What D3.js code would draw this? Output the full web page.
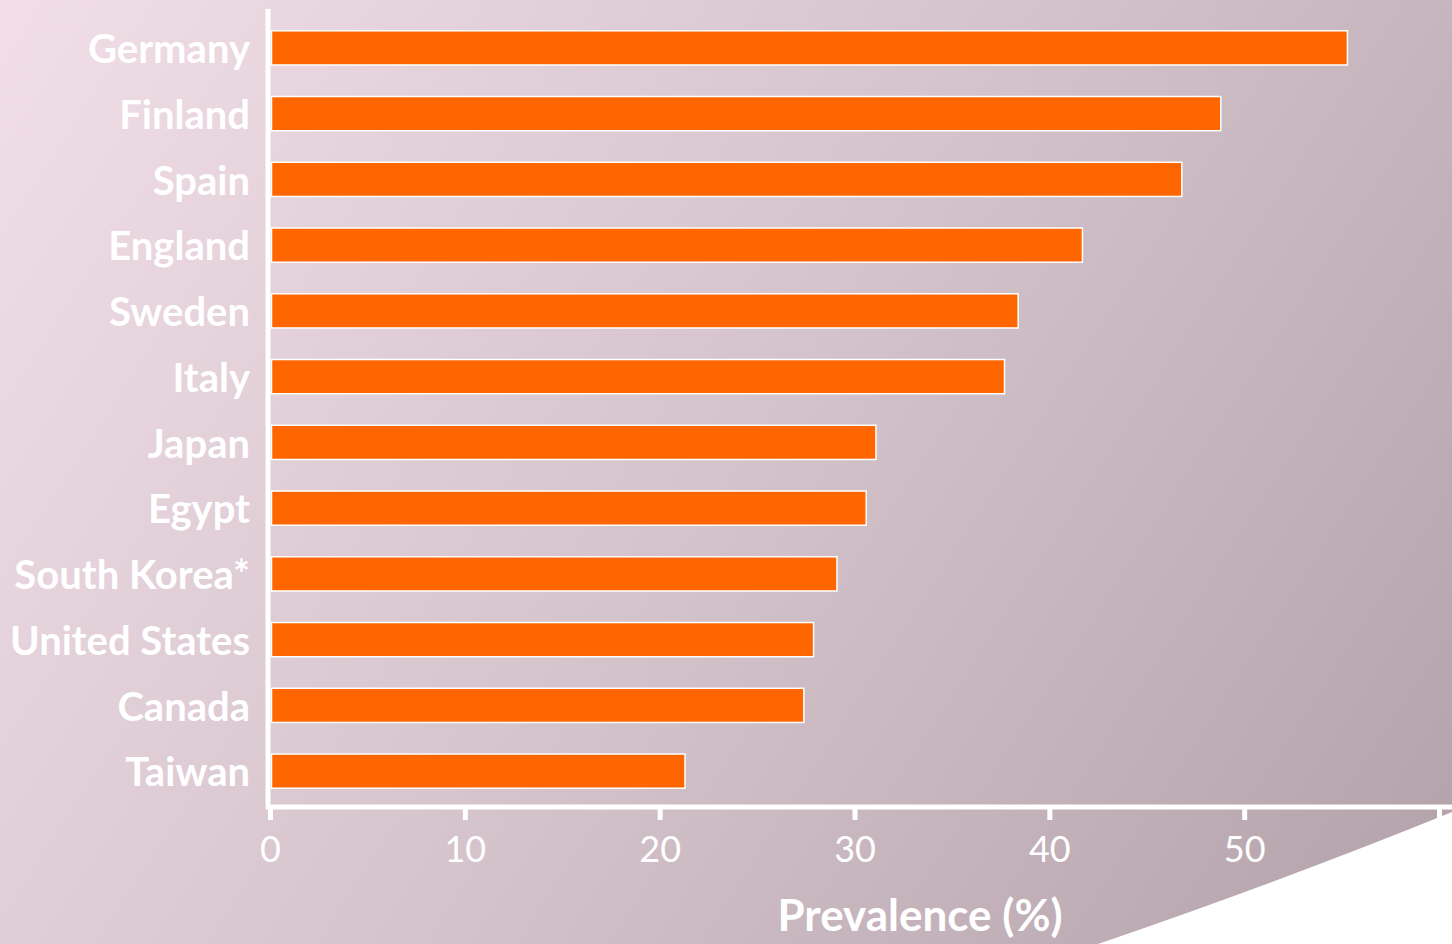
<!DOCTYPE html>
<html>
<head>
<meta charset="utf-8">
<script src="https://cdn.jsdelivr.net/npm/d3@7"></script>
<style>
  html, body { margin: 0; padding: 0; overflow: hidden; }
  svg { display: block; }
</style>
</head>
<body>
<script>
const countries = ["Germany","Finland","Spain","England","Sweden","Italy","Japan","Egypt","South Korea*","United States","Canada","Taiwan"];
const prevalence = [55.3, 48.8, 46.8, 41.7, 38.4, 37.7, 31.1, 30.6, 29.1, 27.9, 27.4, 21.3];
const xTicks = [0, 10, 20, 30, 40, 50, 60];
const xTickLabels = ["0", "10", "20", "30", "40", "50", ""];
const xTitle = "Prevalence (%)";

const W = 1452, H = 944;
const svg = d3.select("body").append("svg").attr("width", W).attr("height", H);

const defs = svg.append("defs");
const grad = defs.append("linearGradient").attr("id", "bg")
  .attr("gradientUnits", "userSpaceOnUse")
  .attr("x1", 0).attr("y1", 0).attr("x2", 1452).attr("y2", 944);
grad.append("stop").attr("offset", 0).attr("stop-color", "#f1dee7");
grad.append("stop").attr("offset", 0.5).attr("stop-color", "#d5c3cb");
grad.append("stop").attr("offset", 1).attr("stop-color", "#b3a1a9");

svg.append("rect").attr("width", W).attr("height", H).attr("fill", "url(#bg)");

const x = d3.scaleLinear().domain([0, 60]).range([270, 1439]);
const y = d3.scaleBand().domain(countries).range([15, 804]).paddingInner(0.48).paddingOuter(0.24);

// bars
svg.append("g").selectAll("rect").data(countries).join("rect")
  .attr("x", x(0) + 1.5)
  .attr("y", d => y(d))
  .attr("width", (d, i) => x(prevalence[i]) - x(0) - 1.5)
  .attr("height", y.bandwidth())
  .attr("fill", "#ff6600")
  .attr("stroke", "#ffffff")
  .attr("stroke-width", 1.5);

// category labels
svg.append("g").selectAll("text").data(countries).join("text")
  .attr("x", 250)
  .attr("y", d => y(d) + y.bandwidth() / 2)
  .attr("dy", "0.38em")
  .attr("text-anchor", "end")
  .attr("fill", "#ffffff")
  .attr("font-family", "Lato, 'Open Sans', sans-serif")
  .attr("font-weight", "bold")
  .attr("font-size", 40)
  .text(d => d);

// x axis
const xAxis = d3.axisBottom(x).tickValues(xTicks)
  .tickFormat((d, i) => xTickLabels[i]).tickSize(12).tickPadding(16);
const gx = svg.append("g").attr("transform", "translate(0,808)").call(xAxis);
gx.select(".domain").remove();
gx.selectAll(".tick line").attr("stroke", "#ffffff").attr("stroke-width", 5);
gx.selectAll(".tick text").attr("fill", "#ffffff")
  .attr("font-family", "Lato, 'Open Sans', sans-serif")
  .attr("font-size", 36);

// axis lines
svg.append("line").attr("x1", 266).attr("x2", W).attr("y1", 807).attr("y2", 807)
  .attr("stroke", "#ffffff").attr("stroke-width", 5);
svg.append("line").attr("x1", 268).attr("x2", 268).attr("y1", 9).attr("y2", 809)
  .attr("stroke", "#ffffff").attr("stroke-width", 5);

// decorative white swoosh bottom right
svg.append("path")
  .attr("d", "M1098,944 Q1290,878 1452,812 L1452,944 Z")
  .attr("fill", "#ffffff");

// x title
svg.append("text")
  .attr("x", 920).attr("y", 931)
  .attr("text-anchor", "middle")
  .attr("fill", "#ffffff")
  .attr("font-family", "Lato, 'Open Sans', sans-serif")
  .attr("font-weight", "bold")
  .attr("font-size", 44)
  .text(xTitle);
</script>
</body>
</html>
